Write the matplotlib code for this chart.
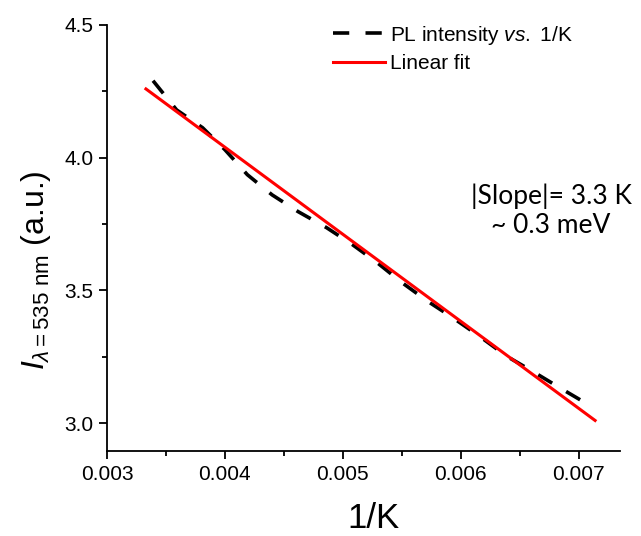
import matplotlib
matplotlib.use("Agg")
import matplotlib.pyplot as plt
from matplotlib.ticker import MultipleLocator

plt.rcParams['font.family'] = ['Liberation Sans', 'DejaVu Sans']
plt.rcParams['mathtext.fontset'] = 'custom'
plt.rcParams['mathtext.rm'] = 'Liberation Sans'
plt.rcParams['mathtext.it'] = 'Liberation Sans:italic'

# PL intensity vs 1/K
inv_k = [0.00339, 0.00359, 0.00381, 0.00400, 0.00419, 0.00440, 0.00462, 0.00486,
         0.00508, 0.00529, 0.00550, 0.00572, 0.00593, 0.00616, 0.00639, 0.00661,
         0.00686, 0.00712]
pl = [4.29, 4.18, 4.113, 4.03, 3.936, 3.86, 3.797, 3.737,
      3.673, 3.605, 3.53, 3.459, 3.398, 3.327, 3.252, 3.195,
      3.128, 3.06]

# Linear fit endpoints
fit_x = [0.00333, 0.00714]
fit_y = [4.259, 3.010]

xticks = [0.003, 0.004, 0.005, 0.006, 0.007]
xticklabels = ['0.003', '0.004', '0.005', '0.006', '0.007']
yticks = [3.0, 3.5, 4.0, 4.5]
yticklabels = ['3.0', '3.5', '4.0', '4.5']

fig = plt.figure(figsize=(6.41, 5.36), dpi=100)
ax = fig.add_axes([0.167, 0.1586, 0.80, 0.7948])

ax.plot(inv_k, pl, color='black', lw=2.6, linestyle=(0, (4.5, 4.5)),
        label=r'PL intensity $\mathit{vs.}$ 1/K')
ax.plot(fit_x, fit_y, color='#ff0000', lw=2.2, label='Linear fit')

ax.set_xlim(0.003, 0.00735)
ax.set_ylim(2.895, 4.5)
ax.set_xticks(xticks)
ax.set_xticklabels(xticklabels)
ax.set_yticks(yticks)
ax.set_yticklabels(yticklabels)
ax.xaxis.set_minor_locator(MultipleLocator(0.0005))
ax.yaxis.set_minor_locator(MultipleLocator(0.25))

for s in ['top', 'right']:
    ax.spines[s].set_visible(False)
for s in ['left', 'bottom']:
    ax.spines[s].set_linewidth(1.3)
ax.tick_params(which='major', direction='out', length=6, width=1.3, labelsize=15, pad=4)
ax.tick_params(which='minor', direction='out', length=3.5, width=1.3)

ax.set_xlabel('1/K', fontsize=25)
ax.xaxis.set_label_coords(0.519, -0.12)
ax.set_ylabel(r'$\mathit{I}_{\lambda\mathrm{=535\ nm}}$ (a.u.)', fontsize=23)
ax.yaxis.set_label_coords(-0.105, 0.425)

leg = ax.legend(loc='upper left', frameon=False, fontsize=15,
                handlelength=2.5, handletextpad=0.25, bbox_to_anchor=(0.4405, 1.003),
                borderaxespad=0.0, borderpad=0.0, labelspacing=0.35)

ax.text(0.866, 0.563, '|Slope|= 3.3 K\n~ 0.3 meV', transform=ax.transAxes,
        ha='center', va='center', fontsize=19, family=['Lato', 'DejaVu Sans'],
        linespacing=1.2)

fig.savefig('out.png', dpi=100)
